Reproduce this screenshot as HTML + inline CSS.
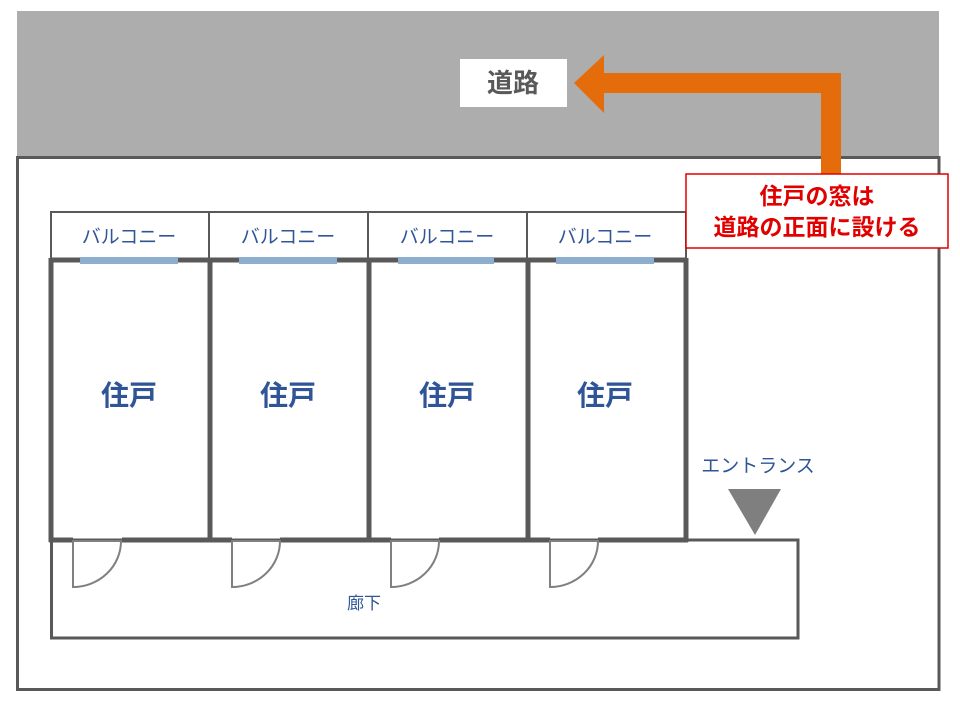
<!DOCTYPE html>
<html><head><meta charset="utf-8"><style>
html,body{margin:0;padding:0;background:#fff;}
svg{display:block;}
text{font-family:"Liberation Sans","Noto Sans CJK JP",sans-serif;}
</style></head><body>
<svg width="960" height="720" viewBox="0 0 960 720" xmlns="http://www.w3.org/2000/svg">
<rect x="17" y="11" width="922" height="146" fill="#adadad"/>
<rect x="17.5" y="157.5" width="921.5" height="532" fill="#fff" stroke="#595959" stroke-width="3"/>
<!-- balconies -->
<g fill="none" stroke="#595959" stroke-width="2">
<rect x="51" y="212" width="635" height="48"/>
<line x1="209" y1="212" x2="209" y2="260"/>
<line x1="368" y1="212" x2="368" y2="260"/>
<line x1="527" y1="212" x2="527" y2="260"/>
</g>
<g font-size="19" fill="#2f5597" text-anchor="middle">
<text x="129" y="243">バルコニー</text>
<text x="288" y="243">バルコニー</text>
<text x="447" y="243">バルコニー</text>
<text x="605" y="243">バルコニー</text>
</g>
<!-- corridor -->
<rect x="51.5" y="540" width="746.5" height="98" fill="#fff" stroke="#595959" stroke-width="3"/>
<!-- unit walls -->
<g stroke="#595959" stroke-width="5" fill="none">
<line x1="51" y1="260" x2="686" y2="260"/>
<line x1="51" y1="258" x2="51" y2="542"/>
<line x1="210" y1="258" x2="210" y2="542"/>
<line x1="369" y1="258" x2="369" y2="542"/>
<line x1="528" y1="258" x2="528" y2="542"/>
<line x1="686" y1="258" x2="686" y2="542"/>
<line x1="49" y1="540" x2="73" y2="540"/>
<line x1="122" y1="540" x2="232" y2="540"/>
<line x1="280" y1="540" x2="391" y2="540"/>
<line x1="439" y1="540" x2="550" y2="540"/>
<line x1="598" y1="540" x2="688" y2="540"/>
</g>
<g fill="#8eaed0">
<rect x="80" y="257" width="98" height="7"/>
<rect x="239" y="257" width="98" height="7"/>
<rect x="398" y="257" width="96" height="7"/>
<rect x="556" y="257" width="98" height="7"/>
</g>
<!-- doors -->
<g fill="none" stroke="#808080" stroke-width="2">
<path d="M73 541 V587 A48 46 0 0 0 121 541 Z"/>
<path d="M232 541 V587 A48 46 0 0 0 280 541 Z"/>
<path d="M391 541 V587 A48 46 0 0 0 439 541 Z"/>
<path d="M550 541 V587 A48 46 0 0 0 598 541 Z"/>
</g>
<g font-size="28" font-weight="bold" fill="#2f5597" text-anchor="middle">
<text x="129" y="405">住戸</text>
<text x="288" y="405">住戸</text>
<text x="447" y="405">住戸</text>
<text x="605" y="405">住戸</text>
</g>
<text x="364" y="609" font-size="17" fill="#2f5597" text-anchor="middle">廊下</text>
<text x="758" y="472" font-size="19" fill="#2f5597" text-anchor="middle">エントランス</text>
<polygon points="728,489 781,489 755,535" fill="#7f7f7f"/>
<!-- road label -->
<rect x="460" y="59" width="107" height="48" fill="#fff"/>
<text x="513" y="92" font-size="26" font-weight="bold" fill="#595959" text-anchor="middle">道路</text>
<!-- arrow -->
<polygon points="841,73 841,176 821,176 821,93 604,93 604,113 574,83 604,55 604,73" fill="#e46c0a"/>
<rect x="686" y="174" width="262" height="74" fill="#fff" stroke="#e00000" stroke-width="1.5"/>
<g font-size="23" font-weight="bold" fill="#e00000" text-anchor="middle">
<text x="817" y="204">住戸の窓は</text>
<text x="817" y="235">道路の正面に設ける</text>
</g>
</svg>
</body></html>
